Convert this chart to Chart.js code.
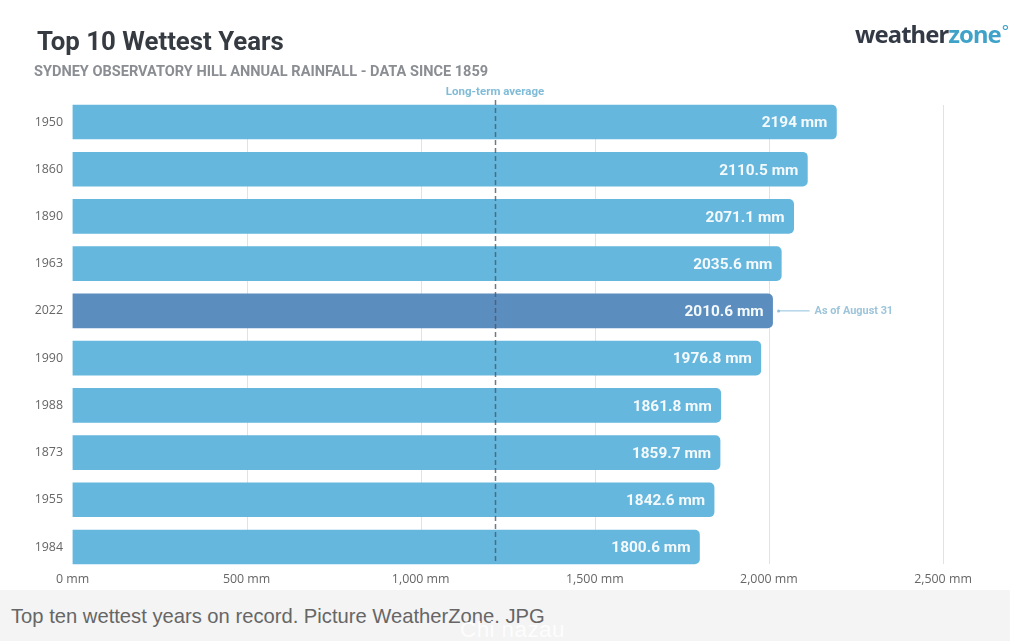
<!DOCTYPE html>
<html>
<head>
<meta charset="utf-8">
<title>Top 10 Wettest Years</title>
<script src="https://cdn.jsdelivr.net/npm/chart.js@4"></script>
<style>
html, body { margin: 0; padding: 0; background: #fff; overflow: hidden; }
#wrap { position: relative; width: 1024px; height: 641px; overflow: hidden; }
#chartId { position: absolute; left: 0; top: 0; }
.txt { position: absolute; white-space: nowrap; }
#title { left: 37px; top: 26px; font: 700 25.8px Roboto, sans-serif; color: #363b42; }
#subtitle { left: 34px; top: 63px; font: 700 14.55px Roboto, sans-serif; color: #8a8d92; }
#logo { left: 855px; top: 18px; font: 700 23.8px "Noto Sans", sans-serif; color: #333a45; letter-spacing: -0.9px; }
#logo span { color: #3fa3c9; }
#logo sup { color: #3fa3c9; font-size: 17px; font-weight: 400; line-height: 0; position: relative; top: 3px; left: 1px; }
#band { position: absolute; left: 0; top: 590px; width: 1010px; height: 51px; background: #f4f4f4; }
#caption { left: 11px; top: 605px; font: 20.2px "Liberation Sans", sans-serif; color: #666; }
#mark { left: 460px; top: 617px; font: 22.5px "Liberation Sans", sans-serif; color: #fff; opacity: .85; letter-spacing: .4px; }
</style>
</head>
<body>
<div id="wrap">
    <canvas id="chartId" width="1024" height="641"></canvas>
    <div class="txt" id="title">Top 10 Wettest Years</div>
    <div class="txt" id="subtitle">SYDNEY OBSERVATORY HILL ANNUAL RAINFALL - DATA SINCE 1859</div>
    <div class="txt" id="logo">weather<span>zone</span><sup>°</sup></div>
    <div id="band"></div>
    <div class="txt" id="caption">Top ten wettest years on record. Picture WeatherZone. JPG</div>
    <div class="txt" id="mark">Chi nazau</div>
</div>
<script>
var years = ["1950", "1860", "1890", "1963", "2022", "1990", "1988", "1873", "1955", "1984"];
var rainfall = [2194, 2110.5, 2071.1, 2035.6, 2010.6, 1976.8, 1861.8, 1859.7, 1842.6, 1800.6];
var xTicks = [0, 500, 1000, 1500, 2000, 2500];
var longTermAverage = 1213;
var highlightYear = "2022";
var averageLabel = "Long-term average";
var highlightNote = "As of August 31";

var barBlue = "#66b7de";
var barDark = "#5b8dbf";

// value labels, grid, average line and the note next to the 2022 bar
var extras = {
    id: "extras",
    beforeDatasetsDraw: function (chart) {
        var c = chart.ctx, x = chart.scales.x;
        c.save();
        c.strokeStyle = "#e2e2e2";
        c.lineWidth = 1;
        xTicks.forEach(function (t) {
            if (t === 0) return;
            var px = Math.round(x.getPixelForValue(t)) + 0.5;
            c.beginPath();
            c.moveTo(px, 105);
            c.lineTo(px, 564);
            c.stroke();
        });
        c.restore();
    },
    afterDatasetsDraw: function (chart) {
        var c = chart.ctx, x = chart.scales.x;
        var bars = chart.getDatasetMeta(0).data;
        c.save();

        var ax = Math.round(x.getPixelForValue(longTermAverage)) + 0.5;
        c.strokeStyle = "rgba(70, 90, 105, 0.8)";
        c.lineWidth = 1.5;
        c.setLineDash([5, 3]);
        c.beginPath();
        c.moveTo(ax, 100);
        c.lineTo(ax, 564);
        c.stroke();
        c.setLineDash([]);
        c.lineWidth = 1;

        c.fillStyle = "#80bcd8";
        c.font = "700 11.5px Roboto, sans-serif";
        c.textAlign = "center";
        c.textBaseline = "middle";
        c.fillText(averageLabel, ax - 0.5, 92);

        c.fillStyle = "#f4f9fc";
        c.font = "700 15.4px Roboto, sans-serif";
        c.textAlign = "right";
        bars.forEach(function (b, i) {
            c.fillText(rainfall[i] + " mm", b.x - 9, b.y + 1.5);
        });

        var hb = bars[years.indexOf(highlightYear)];
        c.strokeStyle = "#8fc1dc";
        c.fillStyle = "#8fc1dc";
        c.beginPath();
        c.moveTo(hb.x + 6, hb.y);
        c.lineTo(hb.x + 37, hb.y);
        c.stroke();
        c.beginPath();
        c.arc(hb.x + 6, hb.y, 1.5, 0, Math.PI * 2);
        c.fill();
        c.fillStyle = "#9cc4da";
        c.font = "700 10.9px Roboto, sans-serif";
        c.textAlign = "left";
        c.fillText(highlightNote, hb.x + 42, hb.y + 0.5);
        c.restore();
    }
};

var chrt = document.getElementById("chartId").getContext("2d");
var chartId = new Chart(chrt, {
    type: "bar",
    data: {
        labels: years,
        datasets: [{
            data: rainfall,
            backgroundColor: years.map(function (y) { return y === highlightYear ? barDark : barBlue; }),
            borderRadius: { topLeft: 0, bottomLeft: 0, topRight: 5, bottomRight: 5 },
            borderSkipped: false,
            barThickness: 34
        }]
    },
    plugins: [extras],
    options: {
        indexAxis: "y",
        responsive: false,
        animation: false,
        devicePixelRatio: 1,
        layout: { padding: { left: 0, right: 81, top: 98.4, bottom: 0 } },
        plugins: {
            legend: { display: false },
            tooltip: { enabled: false }
        },
        scales: {
            x: {
                type: "linear",
                min: 0,
                max: 2500,
                afterFit: function (s) { s.height = 70.4; },
                afterBuildTicks: function (s) { s.ticks = xTicks.map(function (v) { return { value: v }; }); },
                grid: { display: false, drawTicks: false },
                border: { display: false },
                ticks: {
                    padding: 1,
                    maxRotation: 0,
                    color: "#666",
                    font: { family: "Open Sans", size: 12.4 },
                    callback: function (v) { return v.toLocaleString("en-US") + " mm"; }
                }
            },
            y: {
                afterFit: function (s) { s.width = 72.5; },
                grid: { display: false, drawTicks: false },
                border: { display: false },
                ticks: {
                    padding: 9.5,
                    color: "#666",
                    font: { family: "Open Sans", size: 12.4 }
                }
            }
        }
    }
});
</script>
</body>
</html>
